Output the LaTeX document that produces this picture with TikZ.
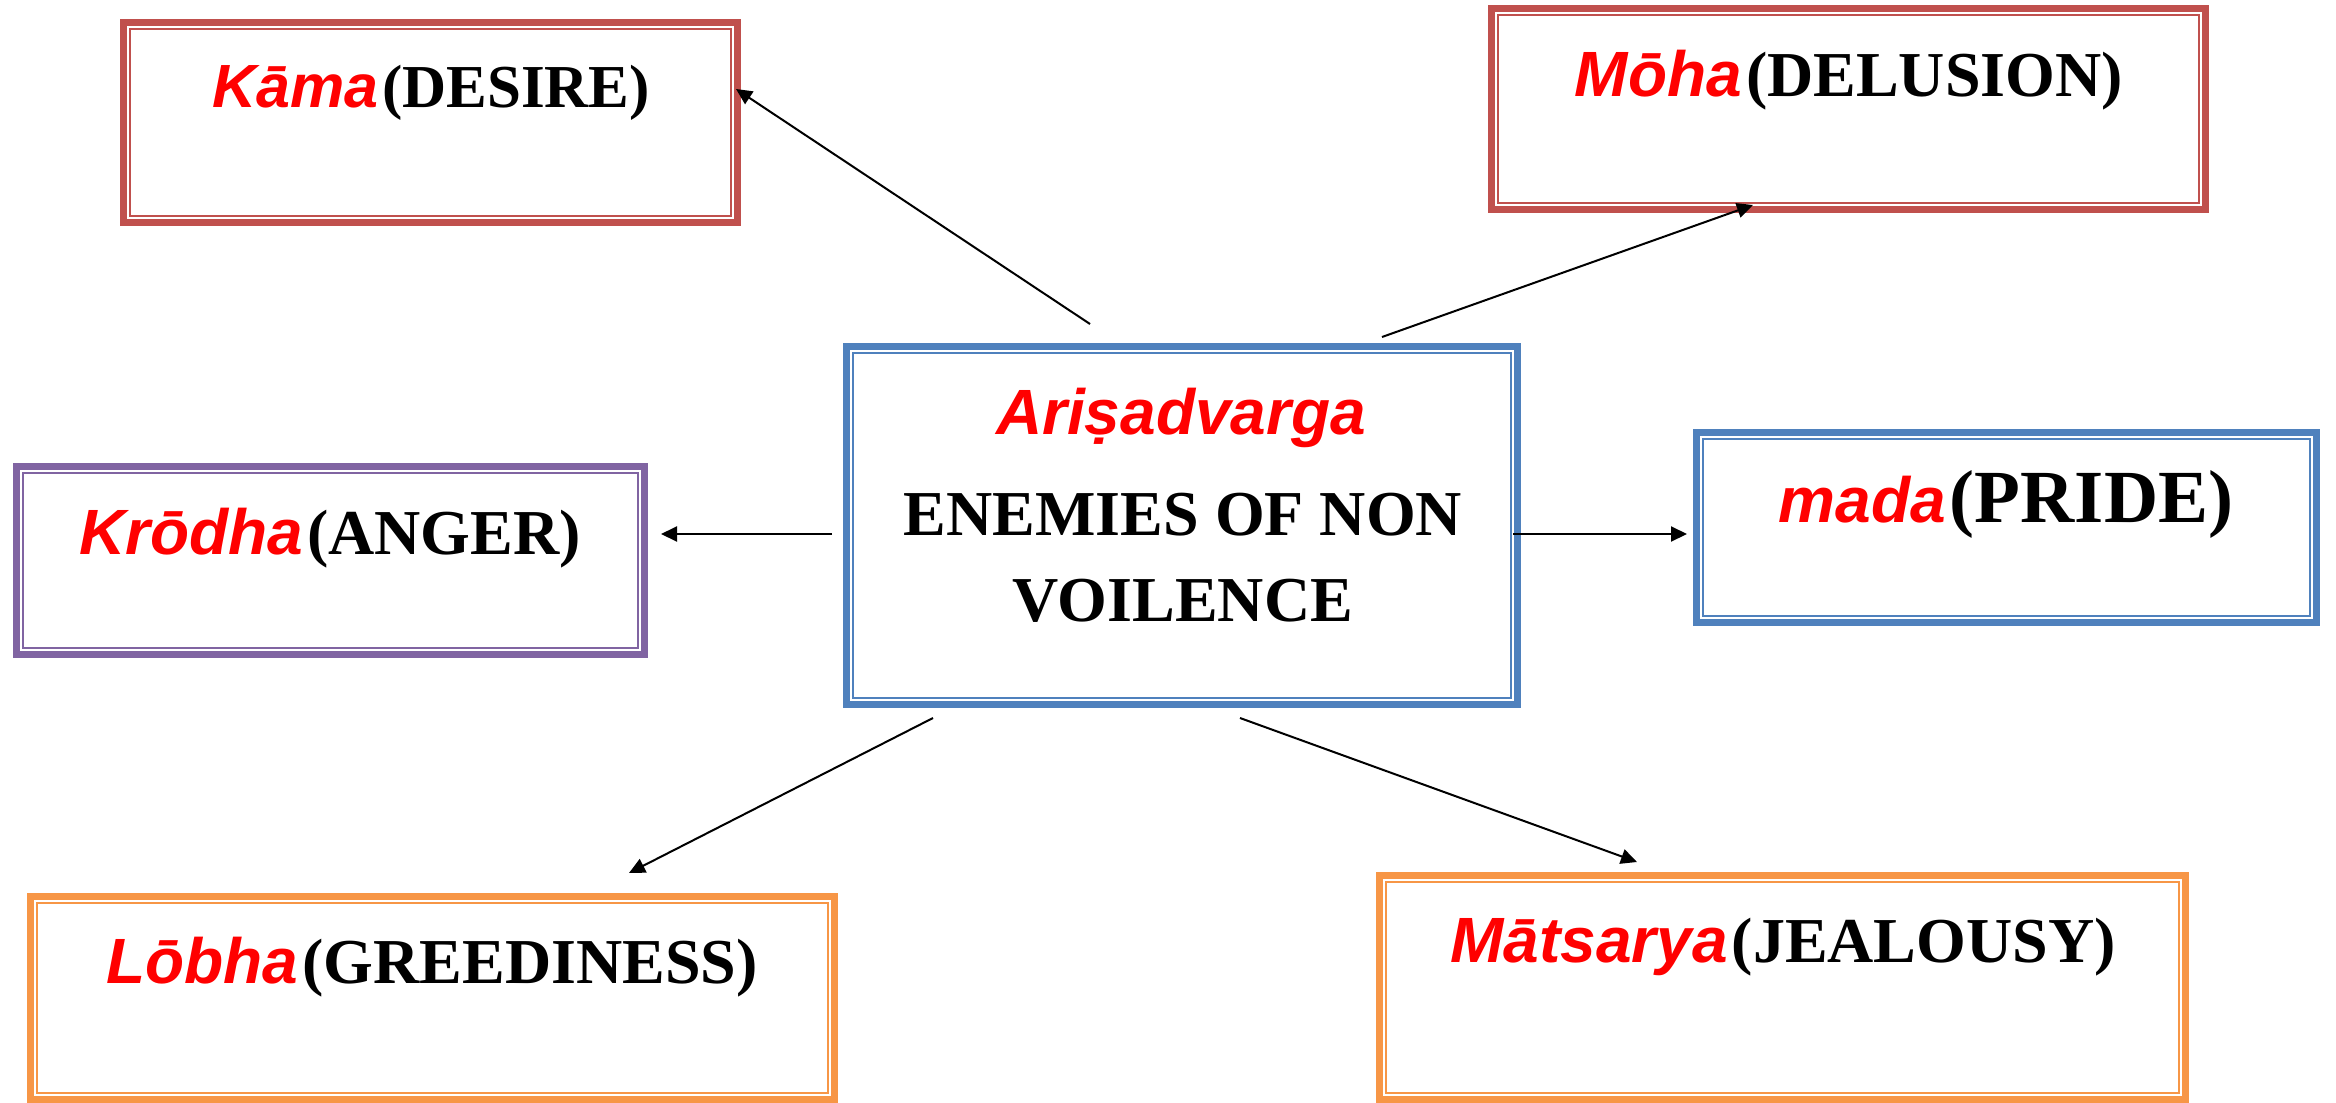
\documentclass[tikz,border=0pt]{standalone}
\usepackage{fontspec}
\setmainfont{Liberation Serif}
\newfontfamily\termfont{Liberation Sans}
\usetikzlibrary{arrows.meta}

\definecolor{boxred}{HTML}{C0504D}
\definecolor{boxblue}{HTML}{4F81BD}
\definecolor{boxpurple}{HTML}{8064A2}
\definecolor{boxorange}{HTML}{F79646}
\definecolor{termred}{HTML}{FF0000}

% Sanskrit term in red italic sans, followed by its English gloss
\newcommand\term[1]{{\termfont\bfseries\itshape\color{termred}#1}\kern2pt}

\tikzset{
  framebox/.style={
    draw=#1, line width=3.5pt, rectangle, inner sep=0pt,
    path picture={
      \draw[#1, line width=0.85pt]
        ([shift={(3.2pt,3.2pt)}]path picture bounding box.south west)
        rectangle
        ([shift={(-3.2pt,-3.2pt)}]path picture bounding box.north east);
    }
  },
  lbl/.style={anchor=base, inner sep=0pt, text=black,
    font=\fontsize{32}{38}\selectfont\bfseries},
  conn/.style={draw=black, line width=1pt,
    -{Triangle[length=8pt,width=7.5pt]}}
}

\begin{document}
\begin{tikzpicture}[x=0.5pt, y=-0.5pt]
  \path[use as bounding box] (0,0) rectangle (2336,1103);

  % frames (centre, width, height in px of the outer line's centre)
  \node[framebox=boxred, minimum width=307pt, minimum height=100pt]
    (kama) at (430.5,122.5) {};
  \node[framebox=boxred, minimum width=357pt, minimum height=100.5pt]
    (moha) at (1848.5,109) {};
  \node[framebox=boxblue, minimum width=335.5pt, minimum height=179pt]
    (core) at (1182,525.5) {};
  \node[framebox=boxpurple, minimum width=314pt, minimum height=94pt]
    (krodha) at (330.5,560.5) {};
  \node[framebox=boxblue, minimum width=310pt, minimum height=95pt]
    (mada) at (2006.5,527.5) {};
  \node[framebox=boxorange, minimum width=402pt, minimum height=101.5pt]
    (lobha) at (432.5,998) {};
  \node[framebox=boxorange, minimum width=403pt, minimum height=112pt]
    (matsarya) at (1782.5,987.5) {};

  % captions
  \node[lbl, font=\fontsize{30.5}{36}\selectfont\bfseries]
    (kamaT) at (431,107) {\term{Kāma}(DESIRE)};
  \node[lbl] (mohaT) at (1849,96) {\term{Mōha}(DELUSION)};
  \node[lbl] (krodhaT) at (330,554) {\term{Krōdha}(ANGER)};
  \node[lbl] (madaT) at (2006,522)
    {\term{mada}{\fontsize{37.5}{44}\selectfont(PRIDE)}};
  \node[lbl] (lobhaT) at (432,983) {\term{Lōbha}(GREEDINESS)};
  \node[lbl] (matsaryaT) at (1783,962) {\term{Mātsarya}(JEALOUSY)};

  \node[lbl] (coreA) at (1183,434) {\term{Ariṣadvarga}};
  \node[lbl] (coreB) at (1183,535) {ENEMIES OF NON};
  \node[lbl] (coreC) at (1183,621) {VOILENCE};

  % arrow end points
  \coordinate (s1) at (1090,324);  \coordinate (e1) at (736,89);
  \coordinate (s2) at (1382,337);  \coordinate (e2) at (1753,205);
  \coordinate (s3) at (832,534);   \coordinate (e3) at (661,534);
  \coordinate (s4) at (1513,534);  \coordinate (e4) at (1687,534);
  \coordinate (s5) at (933,718);   \coordinate (e5) at (629,873);
  \coordinate (s6) at (1240,718);  \coordinate (e6) at (1637,862);

  \draw[conn] (s1) -- (e1);
  \draw[conn] (s2) -- (e2);
  \draw[conn] (s3) -- (e3);
  \draw[conn] (s4) -- (e4);
  \draw[conn] (s5) -- (e5);
  \draw[conn] (s6) -- (e6);
\end{tikzpicture}
\end{document}
